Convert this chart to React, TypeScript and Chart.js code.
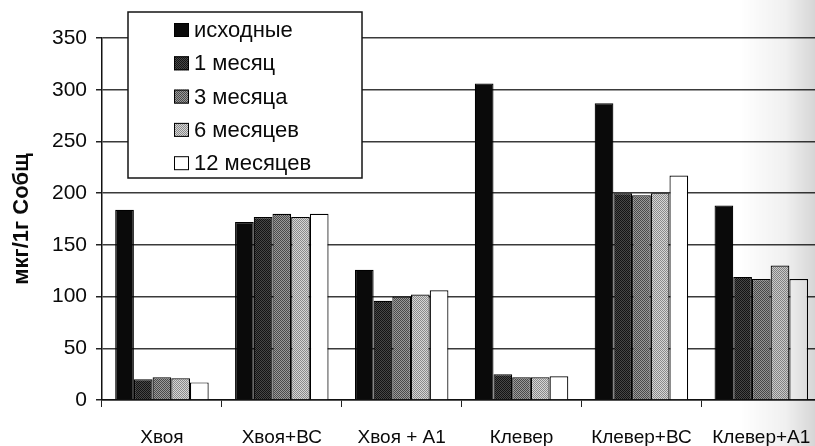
import React, { useEffect, useRef } from "react";
import { Chart, registerables } from "chart.js";

Chart.register(...registerables);

// Categories along the x axis
const categories = ["Хвоя", "Хвоя+ВС", "Хвоя + А1", "Клевер", "Клевер+ВС", "Клевер+А1"];

// Series names (legend)
const seriesNames = ["исходные", "1 месяц", "3 месяца", "6 месяцев", "12 месяцев"];

// Values, мкг/1г Собщ
const initialValues = [184, 172, 126, 306, 287, 188];
const month1Values = [20, 177, 96, 25, 200, 119];
const month3Values = [22, 180, 100, 22, 198, 117];
const month6Values = [21, 177, 102, 22, 200, 130];
const month12Values = [17, 180, 106, 23, 217, 117];

// Y axis ticks and title
const yTickValues = [0, 50, 100, 150, 200, 250, 300, 350];
const yTitle = "мкг/1г Собщ";

const FONT = "'Liberation Sans', Arial, sans-serif";

// Two-tone dither tile used as a halftone bar fill
function makeFill(a: string, b: string): CanvasPattern | string {
  const c = document.createElement("canvas");
  c.width = 2;
  c.height = 2;
  const g = c.getContext("2d");
  if (!g) return a;
  g.fillStyle = a;
  g.fillRect(0, 0, 2, 2);
  g.fillStyle = b;
  g.fillRect(1, 0, 1, 1);
  g.fillRect(0, 1, 1, 1);
  const p = g.createPattern(c, "repeat");
  return p || a;
}

// Boxed legend drawn inside the plot, top-left
const legendBox = {
  id: "legendBox",
  afterDraw(chart: any) {
    const { ctx, chartArea } = chart;
    const x = chartArea.left + 26;
    const y = 12;
    const w = 234;
    const h = 166;
    ctx.save();
    ctx.fillStyle = "#ffffff";
    ctx.fillRect(x, y, w, h);
    ctx.strokeStyle = "#151515";
    ctx.lineWidth = 1.5;
    ctx.strokeRect(x, y, w, h);
    ctx.font = `22px ${FONT}`;
    ctx.textBaseline = "middle";
    ctx.textAlign = "left";
    chart.data.datasets.forEach((ds: any, i: number) => {
      const cy = y + 18 + i * 33.3;
      ctx.fillStyle = ds.backgroundColor;
      ctx.fillRect(x + 46, cy - 7, 15, 14);
      ctx.strokeStyle = "#000";
      ctx.lineWidth = 1;
      ctx.strokeRect(x + 46.5, cy - 6.5, 14, 13);
      ctx.fillStyle = "#0a0a0a";
      ctx.fillText(ds.label, x + 66, cy + 1);
    });
    ctx.restore();
  },
};

export default function App() {
  const canvasRef = useRef<HTMLCanvasElement | null>(null);

  useEffect(() => {
    const canvas = canvasRef.current;
    if (!canvas) return;
    Chart.defaults.font.family = FONT;

    const fills = [
      "#0a0a0a",
      makeFill("#141414", "#474747"),
      makeFill("#4a4a4a", "#9a9a9a"),
      makeFill("#8a8a8a", "#d6d6d6"),
      "#ffffff",
    ];
    const values = [initialValues, month1Values, month3Values, month6Values, month12Values];

    const chart = new Chart(canvas, {
      type: "bar",
      data: {
        labels: categories,
        datasets: seriesNames.map((name, i) => ({
          label: name,
          data: values[i],
          backgroundColor: fills[i] as any,
          borderColor: "#000",
          borderWidth: 1.2,
          barPercentage: 1,
          categoryPercentage: 0.78,
        })),
      },
      options: {
        responsive: false,
        animation: false,
        events: [],
        layout: { padding: { top: 38, right: 8, left: 0, bottom: 0 } },
        plugins: {
          legend: { display: false },
          tooltip: { enabled: false },
        },
        scales: {
          x: {
            ticks: {
              color: "#0a0a0a",
              font: { size: 19, family: FONT },
              padding: 19,
              maxRotation: 0,
              autoSkip: false,
            },
            grid: {
              drawOnChartArea: false,
              drawTicks: true,
              tickLength: 7,
              tickColor: "#222",
              offset: true,
            },
            border: { color: "#111", width: 1.5 },
            afterFit: (s: any) => {
              s.height = 46;
            },
          },
          y: {
            min: 0,
            max: 350,
            ticks: {
              color: "#0a0a0a",
              font: { size: 21, family: FONT },
              padding: 9,
            },
            afterBuildTicks: (s: any) => {
              s.ticks = yTickValues.map((v) => ({ value: v }));
            },
            grid: {
              color: "#3a3a3a",
              lineWidth: 1.5,
              tickLength: 6,
              tickColor: "#222",
            },
            border: { color: "#111", width: 1.5 },
            title: {
              display: true,
              text: yTitle,
              color: "#0a0a0a",
              font: { size: 22, weight: "bold", family: FONT },
              padding: { top: 9, bottom: 0 },
            },
            afterFit: (s: any) => {
              s.width = 102;
            },
          },
        },
      },
      plugins: [legendBox],
    });

    return () => chart.destroy();
  }, []);

  return (
    <div
      style={{
        position: "absolute",
        left: 0,
        top: 0,
        width: 815,
        height: 446,
        overflow: "hidden",
        background: "#fff",
      }}
    >
      <canvas ref={canvasRef} width={830} height={446} style={{ width: 830, height: 446, display: "block" }} />
      <div
        style={{
          position: "absolute",
          left: 740,
          top: 0,
          width: 75,
          height: 446,
          pointerEvents: "none",
          background:
            "linear-gradient(to right, rgba(0,0,0,0) 0%, rgba(0,0,0,0.06) 60%, rgba(0,0,0,0.16) 100%)",
        }}
      />
    </div>
  );
}
